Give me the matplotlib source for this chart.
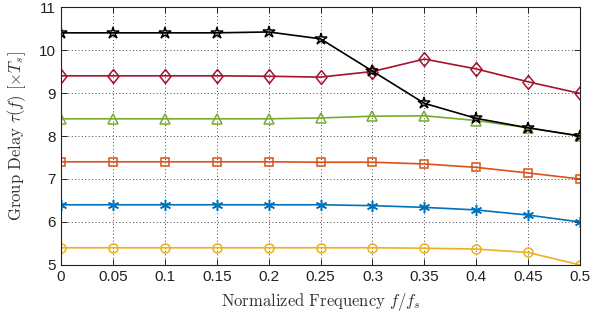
import numpy as np
import matplotlib
matplotlib.use("Agg")
import matplotlib.pyplot as plt

plt.rcParams['mathtext.fontset'] = 'cm'
plt.rcParams['font.family'] = ['Liberation Sans', 'DejaVu Sans']

freq = [0, 0.05, 0.1, 0.15, 0.2, 0.25, 0.3, 0.35, 0.4, 0.45, 0.5]

delay_yellow = [5.4, 5.4, 5.4, 5.4, 5.4, 5.4, 5.4, 5.39, 5.37, 5.29, 5.0]
delay_blue = [6.4, 6.4, 6.4, 6.4, 6.4, 6.4, 6.38, 6.34, 6.28, 6.16, 6.0]
delay_orange = [7.4, 7.4, 7.4, 7.4, 7.4, 7.39, 7.39, 7.35, 7.27, 7.14, 7.0]
delay_green = [8.4, 8.4, 8.4, 8.4, 8.4, 8.42, 8.46, 8.47, 8.36, 8.19, 8.0]
delay_red = [9.4, 9.4, 9.4, 9.4, 9.39, 9.37, 9.5, 9.79, 9.56, 9.26, 8.99]
delay_black = [10.4, 10.4, 10.4, 10.4, 10.42, 10.26, 9.51, 8.76, 8.41, 8.19, 8.0]

# matlab-like diamond (a bit taller than wide)
diamond = [(0, 1), (0.8, 0), (0, -1), (-0.8, 0), (0, 1)]

series = [
    (delay_yellow, '#EDB120', 'o', 6.5),
    (delay_blue, '#0072BD', (6, 2, 0), 8),
    (delay_orange, '#D95319', 's', 6),
    (delay_green, '#77AC30', '^', 7),
    (delay_red, '#A2142F', diamond, 10),
    (delay_black, 'black', '*', 9),
]

fig = plt.figure(figsize=(6.05, 3.2), dpi=100)
ax = fig.add_axes([0.1008, 0.172, 0.858, 0.806])

for vals, col, mk, ms in series:
    ax.plot(freq, vals, color=col, lw=1.2, marker=mk, ms=ms,
            mfc='none', mec=col, mew=1.1)

ax.set_xlim(0, 0.5)
ax.set_ylim(5, 11)
ax.set_xticks(freq)
ax.set_xticklabels(['0', '0.05', '0.1', '0.15', '0.2', '0.25', '0.3',
                    '0.35', '0.4', '0.45', '0.5'])
ax.set_yticks(range(5, 12))
ax.grid(True, ls=(0, (1, 2.5)), color='#444444', lw=0.7)
ax.tick_params(direction='in', top=True, right=True, labelsize=11,
               length=4, width=0.7, colors='#222222')
for s in ax.spines.values():
    s.set_linewidth(0.8)
    s.set_color('#222222')

ax.set_xlabel(r'$\mathrm{Normalized\ Frequency}\ f/f_s$', fontsize=12,
              color='#333333', labelpad=5)
ax.set_ylabel(r'$\mathrm{Group\ Delay}\ \tau(f)\ [\times T_s]$', fontsize=12,
              color='#333333', labelpad=8)

fig.savefig('out.png', dpi=100)
